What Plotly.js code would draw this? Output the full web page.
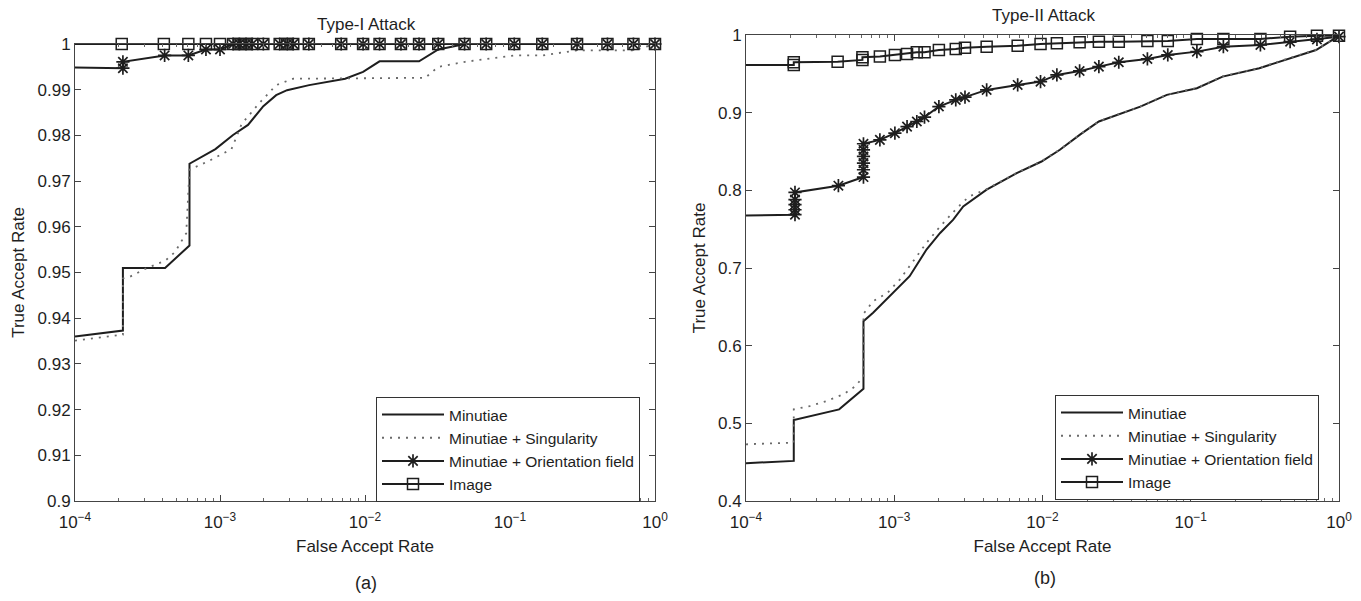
<!DOCTYPE html>
<html><head><meta charset="utf-8">
<script src="https://cdn.plot.ly/plotly-3.0.1.min.js"></script>
<style>html,body{margin:0;padding:0;background:#fff}#chart{width:1361px;height:601px}</style>
</head><body><div id="chart"></div>
<script>
// ---------- Panel (a): Type-I Attack ----------
const aMinFar  = [1e-4, 2.14e-4, 2.14e-4, 4.18e-4, 6.16e-4, 6.16e-4, 9.3e-4, 1.23e-3, 1.56e-3, 1.99e-3, 2.44e-3, 2.9e-3, 4.12e-3, 7.3e-3, 9.7e-3, 1.26e-2, 2.36e-2, 3.2e-2, 4.9e-2, 1];
const aMinTar  = [0.9360, 0.9373, 0.9510, 0.9510, 0.9559, 0.9738, 0.9770, 0.9801, 0.9823, 0.9864, 0.9888, 0.9899, 0.9910, 0.9924, 0.9939, 0.9962, 0.9962, 0.9988, 1.0, 1.0];
const aSingFar = [1e-4, 2.14e-4, 2.14e-4, 2.4e-4, 3.1e-4, 4.2e-4, 4.9e-4, 5.85e-4, 6.16e-4, 8.5e-4, 1.2e-3, 1.41e-3, 1.86e-3, 2.44e-3, 3.2e-3, 2.6e-2, 3.2e-2, 4.9e-2, 0.107, 0.167, 0.29, 0.71, 1];
const aSingTar = [0.9351, 0.9364, 0.9487, 0.9491, 0.9509, 0.9526, 0.9545, 0.9586, 0.9725, 0.9745, 0.9770, 0.9825, 0.9870, 0.9910, 0.9924, 0.9926, 0.9950, 0.9961, 0.9975, 0.9975, 0.9986, 0.9986, 1.0];
const aOriFar  = [5e-5, 2.14e-4, 2.14e-4, 4.15e-4, 6.05e-4, 8e-4, 1e-3, 1.23e-3, 1.36e-3, 1.51e-3, 1.67e-3, 1.99e-3, 2.58e-3, 2.9e-3, 3.2e-3, 4.1e-3, 6.85e-3, 9.7e-3, 1.26e-2, 1.77e-2, 2.36e-2, 3.2e-2, 4.86e-2, 6.85e-2, 0.107, 0.167, 0.29, 0.47, 0.71, 1];
const aOriTar  = [0.995, 0.9947, 0.9961, 0.9975, 0.9975, 0.9988, 0.9988, 1, 1, 1, 1, 1, 1, 1, 1, 1, 1, 1, 1, 1, 1, 1, 1, 1, 1, 1, 1, 1, 1, 1];
const aImgFar  = [5e-5, 2.1e-4, 4.1e-4, 6.05e-4, 8e-4, 1e-3, 1.23e-3, 1.36e-3, 1.51e-3, 1.67e-3, 1.99e-3, 2.58e-3, 2.9e-3, 3.2e-3, 4.1e-3, 6.85e-3, 9.7e-3, 1.26e-2, 1.77e-2, 2.36e-2, 3.2e-2, 4.86e-2, 6.85e-2, 0.107, 0.167, 0.29, 0.47, 0.71, 1];
const aImgTar  = [1, 1, 1, 1, 1, 1, 1, 1, 1, 1, 1, 1, 1, 1, 1, 1, 1, 1, 1, 1, 1, 1, 1, 1, 1, 1, 1, 1, 1];

// ---------- Panel (b): Type-II Attack ----------
const bMinFar  = [1e-4, 2.1e-4, 2.1e-4, 4.25e-4, 6.2e-4, 6.2e-4, 7.2e-4, 9.85e-4, 1.27e-3, 1.65e-3, 2.04e-3, 2.5e-3, 2.92e-3, 4.2e-3, 6.7e-3, 9.85e-3, 1.31e-2, 1.8e-2, 2.4e-2, 4.57e-2, 6.9e-2, 0.11, 0.164, 0.29, 0.46, 0.70, 1];
const bMinTar  = [0.4486, 0.4516, 0.5042, 0.5180, 0.5446, 0.6315, 0.6423, 0.6680, 0.6894, 0.7237, 0.7451, 0.7622, 0.7793, 0.8008, 0.8222, 0.8371, 0.8522, 0.8720, 0.8886, 0.9078, 0.9229, 0.9315, 0.9464, 0.9572, 0.9700, 0.9807, 0.9991];
const bSingFar = [1e-4, 2.1e-4, 2.1e-4, 2.69e-4, 3.49e-4, 4.53e-4, 5.5e-4, 6.2e-4, 6.2e-4, 7.2e-4, 9.0e-4, 1.09e-3, 1.34e-3, 1.65e-3, 2.04e-3, 2.65e-3, 3.2e-3, 4.2e-3, 6.7e-3, 9.85e-3, 1.31e-2, 1.8e-2, 2.4e-2, 4.57e-2, 6.9e-2, 0.11, 0.164, 0.29, 0.46, 0.70, 1];
const bSingTar = [0.4730, 0.4752, 0.5180, 0.5222, 0.5287, 0.5373, 0.5480, 0.5608, 0.6410, 0.6572, 0.6680, 0.6851, 0.7086, 0.7323, 0.7536, 0.7772, 0.7922, 0.8015, 0.8225, 0.8375, 0.8525, 0.8722, 0.8888, 0.9080, 0.9231, 0.9318, 0.9466, 0.9575, 0.9702, 0.9809, 0.9993];
const bOriFar  = [5e-5, 2.14e-4, 2.14e-4, 2.14e-4, 2.14e-4, 2.14e-4, 4.2e-4, 6.2e-4, 6.2e-4, 6.2e-4, 6.2e-4, 6.2e-4, 6.2e-4, 8e-4, 1.01e-3, 1.22e-3, 1.42e-3, 1.6e-3, 2.0e-3, 2.6e-3, 3.0e-3, 4.2e-3, 6.8e-3, 9.7e-3, 1.25e-2, 1.78e-2, 2.4e-2, 3.27e-2, 5.1e-2, 7e-2, 0.11, 0.166, 0.295, 0.468, 0.71, 1];
const bOriTar  = [0.7665, 0.7686, 0.7750, 0.7815, 0.7880, 0.7973, 0.8060, 0.8171, 0.8265, 0.8350, 0.8436, 0.8520, 0.8600, 0.8650, 0.8736, 0.8820, 0.8886, 0.8942, 0.9079, 0.9165, 0.9200, 0.9293, 0.9357, 0.9400, 0.9486, 0.9537, 0.9593, 0.9649, 0.9692, 0.9743, 0.9786, 0.9850, 0.9871, 0.9914, 0.9944, 0.9979];
const bImgFar  = [5e-5, 2.1e-4, 2.1e-4, 4.15e-4, 6.1e-4, 6.1e-4, 8e-4, 1.01e-3, 1.22e-3, 1.42e-3, 1.6e-3, 2.0e-3, 2.6e-3, 3.0e-3, 4.2e-3, 6.8e-3, 9.7e-3, 1.25e-2, 1.78e-2, 2.4e-2, 3.27e-2, 5.1e-2, 7e-2, 0.11, 0.166, 0.295, 0.468, 0.71, 1];
const bImgTar  = [0.9614, 0.9614, 0.9649, 0.9657, 0.9679, 0.9713, 0.9722, 0.9743, 0.9756, 0.9777, 0.9777, 0.9807, 0.9820, 0.9837, 0.9850, 0.9863, 0.9884, 0.9893, 0.9906, 0.9914, 0.9914, 0.9923, 0.9923, 0.9949, 0.9949, 0.9949, 0.9979, 0.9991, 0.9991];

// ---------- labels / ticks ----------
const seriesNames = ['Minutiae', 'Minutiae + Singularity', 'Minutiae + Orientation field', 'Image'];
const panelTitles = ['Type-I Attack', 'Type-II Attack'];
const panelTags = ['(a)', '(b)'];
const xTitle = 'False Accept Rate';
const yTitle = 'True Accept Rate';
const xTickVals = [1e-4, 1e-3, 1e-2, 1e-1, 1];
const xTickText = ['10<sup>\u22124</sup>', '10<sup>\u22123</sup>', '10<sup>\u22122</sup>', '10<sup>\u22121</sup>', '10<sup>0</sup>'];
const aYTickVals = [0.9, 0.91, 0.92, 0.93, 0.94, 0.95, 0.96, 0.97, 0.98, 0.99, 1];
const aYTickText = ['0.9', '0.91', '0.92', '0.93', '0.94', '0.95', '0.96', '0.97', '0.98', '0.99', '1'];
const bYTickVals = [0.4, 0.5, 0.6, 0.7, 0.8, 0.9, 1];
const bYTickText = ['0.4', '0.5', '0.6', '0.7', '0.8', '0.9', '1'];

const INK = '#1e1e1e';
const FONT = 'Liberation Sans, Arial, sans-serif';

function mk(x, y, name, kind, axes, legend) {
  const t = {x: x, y: y, name: name, type: 'scatter', xaxis: axes[0], yaxis: axes[1], legend: legend,
             cliponaxis: false, hoverinfo: 'skip'};
  if (kind === 'solid') { t.mode = 'lines'; t.line = {color: INK, width: 2}; }
  if (kind === 'dot') { t.mode = 'lines'; t.line = {color: '#6a6a6a', width: 1.8, dash: '2px,6px'}; }
  if (kind === 'star') { t.mode = 'lines+markers'; t.line = {color: INK, width: 2};
    t.marker = {symbol: 'asterisk-open', size: 11, color: INK, line: {color: INK, width: 1.7}}; }
  if (kind === 'square') { t.mode = 'lines+markers'; t.line = {color: INK, width: 2};
    t.marker = {symbol: 'square-open', size: 11, color: INK, line: {color: INK, width: 1.5}}; }
  return t;
}

const data = [
  mk(aMinFar, aMinTar, seriesNames[0], 'solid', ['x', 'y'], 'legend'),
  mk(aSingFar, aSingTar, seriesNames[1], 'dot', ['x', 'y'], 'legend'),
  mk(aOriFar, aOriTar, seriesNames[2], 'star', ['x', 'y'], 'legend'),
  mk(aImgFar, aImgTar, seriesNames[3], 'square', ['x', 'y'], 'legend'),
  mk(bMinFar, bMinTar, seriesNames[0], 'solid', ['x2', 'y2'], 'legend2'),
  mk(bSingFar, bSingTar, seriesNames[1], 'dot', ['x2', 'y2'], 'legend2'),
  mk(bOriFar, bOriTar, seriesNames[2], 'star', ['x2', 'y2'], 'legend2'),
  mk(bImgFar, bImgTar, seriesNames[3], 'square', ['x2', 'y2'], 'legend2')
];

const W = 1361, H = 601;
function xax(d0, d1, anchor) {
  return {domain: [d0 / W, d1 / W], anchor: anchor, type: 'log', range: [-4, 0],
    tickmode: 'array', tickvals: xTickVals, ticktext: xTickText,
    ticks: 'inside', ticklen: 6, tickwidth: 1, tickcolor: '#444', ticklabelstandoff: 6,
    minor: {ticks: 'inside', ticklen: 3, tickwidth: 1, tickcolor: '#666', dtick: 'D1', showgrid: false},
    showline: true, linecolor: '#444', linewidth: 1, mirror: 'ticks', showgrid: false, zeroline: false,
    tickfont: {family: FONT, size: 17, color: INK},
    title: {text: xTitle, font: {family: FONT, size: 17, color: INK}, standoff: 8}};
}
function yax(d0, d1, anchor, r, tv, tt) {
  return {domain: [1 - d1 / H, 1 - d0 / H], anchor: anchor, range: r,
    tickmode: 'array', tickvals: tv, ticktext: tt,
    ticks: 'inside', ticklen: 6, tickwidth: 1, tickcolor: '#444',
    showline: true, linecolor: '#444', linewidth: 1, mirror: 'ticks', showgrid: false, zeroline: false,
    tickfont: {family: FONT, size: 17, color: INK},
    title: {text: yTitle, font: {family: FONT, size: 17, color: INK}, standoff: 8}};
}

const legendFont = {family: FONT, size: 15.5, color: INK};
const layout = {
  width: W, height: H, margin: {l: 0, r: 0, t: 0, b: 0},
  paper_bgcolor: '#fff', plot_bgcolor: '#fff', showlegend: true,
  font: {family: FONT, color: INK, size: 17},
  xaxis: xax(75, 655, 'y'),
  yaxis: yax(44, 501, 'x', [0.9, 1], aYTickVals, aYTickText),
  xaxis2: xax(746, 1339, 'y2'),
  yaxis2: yax(35, 501, 'x2', [0.4, 1], bYTickVals, bYTickText),
  legend: {x: 508 / W, y: 1 - 397 / H, xanchor: 'center', yanchor: 'top', bgcolor: '#fff',
    bordercolor: '#333', borderwidth: 1, itemwidth: 62, tracegroupgap: 0, font: legendFont},
  legend2: {x: 1187 / W, y: 1 - 395 / H, xanchor: 'center', yanchor: 'top', bgcolor: '#fff',
    bordercolor: '#333', borderwidth: 1, itemwidth: 62, tracegroupgap: 0, font: legendFont},
  annotations: [
    {text: panelTitles[0], x: 366 / W, y: 1 - 25 / H, xref: 'paper', yref: 'paper', showarrow: false,
     xanchor: 'center', yanchor: 'middle', font: {family: FONT, size: 17, color: INK}},
    {text: panelTitles[1], x: 1043 / W, y: 1 - 16 / H, xref: 'paper', yref: 'paper', showarrow: false,
     xanchor: 'center', yanchor: 'middle', font: {family: FONT, size: 17, color: INK}},
    {text: panelTags[0], x: 366 / W, y: 1 - 583 / H, xref: 'paper', yref: 'paper', showarrow: false,
     xanchor: 'center', yanchor: 'middle', font: {family: FONT, size: 18, color: INK}},
    {text: panelTags[1], x: 1045 / W, y: 1 - 578 / H, xref: 'paper', yref: 'paper', showarrow: false,
     xanchor: 'center', yanchor: 'middle', font: {family: FONT, size: 18, color: INK}}
  ]
};

Plotly.newPlot('chart', data, layout, {staticPlot: true, displayModeBar: false});
</script>
</body></html>
